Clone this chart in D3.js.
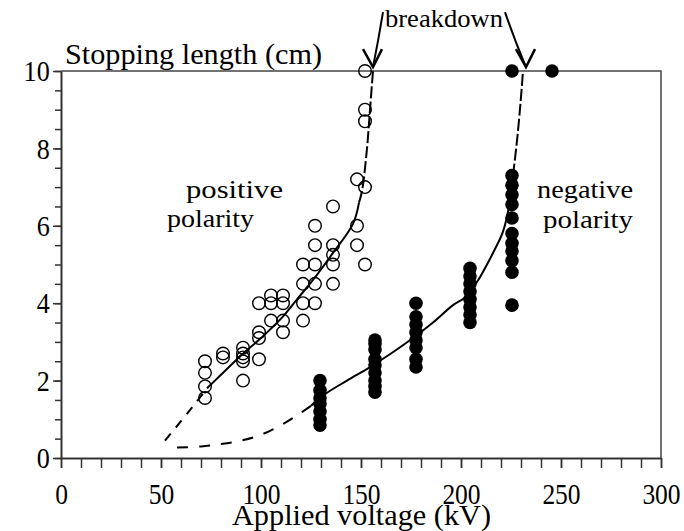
<!DOCTYPE html>
<html>
<head>
<meta charset="utf-8">
<script src="https://cdn.jsdelivr.net/npm/d3@7"></script>
<style>
  body { margin: 0; background: #fff; }
  .chart text { font-family: "Liberation Serif", "Times New Roman", serif; fill: #000; }
</style>
</head>
<body>
<div class="chart"></div>
<script>

// positive polarity (open circles)
var posVoltage = [72,72,72,72, 81,81, 91,91,91,91,91, 99,99,99,99, 105,105,105,
                  111,111,111,111, 121,121,121,121, 127,127,127,127,127,
                  136,136,136,136,136, 148,148,148, 152,152,152,152,152];
var posLength  = [1.55,1.85,2.2,2.5, 2.6,2.7, 2.0,2.5,2.6,2.7,2.85, 2.55,3.1,3.25,4.0, 3.55,4.0,4.2,
                  3.25,3.55,4.0,4.2, 3.55,4.0,4.5,5.0, 4.0,4.5,5.0,5.5,6.0,
                  4.5,5.0,5.25,5.5,6.5, 5.5,6.0,7.2, 5.0,7.0,8.7,9.0,10.0];

// negative polarity (filled circles)
var negVoltage = [129.5,129.5,129.5,129.5,129.5,129.5,129.5,
                  157,157,157,157,157,157,157,157,157,
                  177.5,177.5,177.5,177.5,177.5,177.5,177.5,177.5,
                  204.5,204.5,204.5,204.5,204.5,204.5,204.5,204.5,
                  225.5,225.5,225.5,225.5,225.5,225.5,225.5,225.5,225.5,225.5,225.5,225.5,
                  245.5];
var negLength  = [0.85,1.0,1.2,1.4,1.55,1.75,2.0,
                  1.7,1.85,2.0,2.2,2.4,2.55,2.8,2.95,3.05,
                  2.35,2.55,2.85,3.05,3.25,3.45,3.65,4.0,
                  3.5,3.7,3.9,4.1,4.3,4.5,4.7,4.9,
                  3.95,4.8,5.1,5.35,5.55,5.8,6.2,6.55,6.8,7.05,7.3,10.0,
                  10.0];

// fitted curves, split where the line style changes
var posFitLow  = [[52,0.45],[60,0.95],[67,1.4],[73,1.8]];
var posFitMid  = [[73,1.8],[80,2.15],[90,2.65],[100,3.1],[110,3.6],[118,4.1],[126,4.6],[136,5.3],[146,6.05],[149,6.6]];
var posFitHigh = [[149,6.6],[150.5,6.9],[153,8.0],[154.5,9.0],[156,10]];
var negFitLow  = [[58,0.27],[70,0.3],[80,0.36],[90,0.45],[100,0.6],[110,0.85],[118,1.1],[125,1.35]];
var negFitMid  = [[125,1.35],[132,1.65],[143,2.0],[154.5,2.35],[165,2.7],[176,3.1],[186,3.5],[196,3.95],[202,4.15],[208,4.55],[213,5.0],[217,5.4],[221,5.85],[224,6.5],[226,7.3]];
var negFitHigh = [[226,7.3],[228,8.2],[229.8,9.2],[231,10]];

var xTicks = [0,50,100,150,200,250,300];
var yTicks = [0,2,4,6,8,10];

// breakdown arrows: [text end, tip] in data units
var breakdownArrows = [[[161,10.9],[156,10.1]], [[222,10.9],[232.5,10.1]]];

function StoppingChart(){
    var self = this;
    self.init();
    self.draw();
};

StoppingChart.prototype.init = function(){
    var self = this;
    self.width = 684;
    self.height = 531;

    self.svg = d3.select(".chart").append("svg")
        .attr("width", self.width)
        .attr("height", self.height);

    self.x = d3.scaleLinear().domain([0,300]).range([61,661]);
    self.y = d3.scaleLinear().domain([0,10]).range([458,71]);
};

StoppingChart.prototype.draw = function(){
    var self = this;
    var x = self.x, y = self.y;

    // frame: top and right
    self.svg.append("path")
      .attr("d", "M" + x(0) + "," + y(10) + "H" + x(300) + "V" + y(0))
      .attr("fill", "none")
      .attr("stroke", "#444")
      .attr("stroke-width", 1.5);

    // minor ticks
    self.svg.append("g")
      .attr("transform", "translate(0," + y(0) + ")")
      .call(d3.axisBottom(x).tickValues(d3.range(0, 301, 10)).tickSize(10).tickFormat(""))
      .call(function(g){ g.select(".domain").remove(); })
      .selectAll("line").attr("stroke", "#333").attr("stroke-width", 1.5);

    self.svg.append("g")
      .attr("transform", "translate(" + x(0) + ",0)")
      .call(d3.axisLeft(y).tickValues(d3.range(0, 10.01, 0.5)).tickSize(6).tickFormat(""))
      .call(function(g){ g.select(".domain").remove(); })
      .selectAll("line").attr("stroke", "#333").attr("stroke-width", 1.5);

    // major axes with labels
    var xAxis = self.svg.append("g")
      .attr("transform", "translate(0," + y(0) + ")")
      .call(d3.axisBottom(x).tickValues(xTicks).tickSize(10).tickSizeOuter(0).tickPadding(15));
    var yAxis = self.svg.append("g")
      .attr("transform", "translate(" + x(0) + ",0)")
      .call(d3.axisLeft(y).tickValues(yTicks).tickSize(8).tickSizeOuter(0).tickPadding(5));

    [xAxis, yAxis].forEach(function(g){
      g.select(".domain").attr("stroke", "#333").attr("stroke-width", 2);
      g.selectAll("line").attr("stroke", "#333").attr("stroke-width", 1.5);
      g.selectAll("text")
        .style("font-family", "Liberation Serif, serif")
        .style("font-size", "30px")
        .attr("fill", "#000");
    });
    xAxis.selectAll(".tick text").attr("transform", "scale(0.85,1)").attr("x", 0);
    yAxis.selectAll(".tick text").attr("transform", "scale(0.87,1)");

    // fitted curves
    var line = d3.line()
      .x(function(d){ return x(d[0]); })
      .y(function(d){ return y(d[1]); })
      .curve(d3.curveCatmullRom.alpha(0.5));

    var fits = [
      {pts: posFitLow,  dash: "9,8"},
      {pts: posFitMid,  dash: null},
      {pts: posFitHigh, dash: "12,3"},
      {pts: negFitLow,  dash: "11,11"},
      {pts: negFitMid,  dash: null},
      {pts: negFitHigh, dash: "12,3"}
    ];
    self.svg.selectAll(".fit")
      .data(fits)
      .enter()
      .append("path")
      .attr("class", "fit")
      .attr("d", function(d){ return line(d.pts); })
      .attr("fill", "none")
      .attr("stroke", "#000")
      .attr("stroke-width", 2)
      .attr("stroke-dasharray", function(d){ return d.dash; });

    // data points
    self.svg.selectAll(".pos")
      .data(posVoltage)
      .enter()
      .append("circle")
      .attr("class", "pos")
      .attr("cx", function(d){ return x(d); })
      .attr("cy", function(d,i){ return y(posLength[i]); })
      .attr("r", 6.3)
      .attr("fill", "none")
      .attr("stroke", "#000")
      .attr("stroke-width", 1.4);

    self.svg.selectAll(".neg")
      .data(negVoltage)
      .enter()
      .append("circle")
      .attr("class", "neg")
      .attr("cx", function(d){ return x(d); })
      .attr("cy", function(d,i){ return y(negLength[i]); })
      .attr("r", 6.8)
      .attr("fill", "#000");

    // labels
    self.svg.append("text")
      .attr("x", 65).attr("y", 64)
      .attr("textLength", 257).attr("lengthAdjust", "spacingAndGlyphs")
      .style("font-size", "30px")
      .text("Stopping length (cm)");

    self.svg.append("text")
      .attr("x", 232).attr("y", 525)
      .attr("textLength", 259).attr("lengthAdjust", "spacingAndGlyphs")
      .style("font-size", "29px")
      .text("Applied voltage (kV)");

    self.svg.append("text")
      .attr("x", 385).attr("y", 27)
      .attr("textLength", 118).attr("lengthAdjust", "spacingAndGlyphs")
      .style("font-size", "25px")
      .text("breakdown");

    var notes = [
      {t: "positive", x: 186, y: 198, w: 97},
      {t: "polarity", x: 167, y: 227, w: 87},
      {t: "negative", x: 537, y: 198, w: 96},
      {t: "polarity", x: 543, y: 228, w: 90}
    ];
    self.svg.selectAll(".note")
      .data(notes)
      .enter()
      .append("text")
      .attr("class", "note")
      .attr("x", function(d){ return d.x; })
      .attr("y", function(d){ return d.y; })
      .attr("textLength", function(d){ return d.w; })
      .attr("lengthAdjust", "spacingAndGlyphs")
      .style("font-size", "26px")
      .text(function(d){ return d.t; });

    // breakdown arrows
    breakdownArrows.forEach(function(a){
      var x0 = x(a[0][0]), y0 = y(a[0][1]) - 24;
      var x1 = x(a[1][0]), y1 = y(a[1][1]);
      self.svg.append("path")
        .attr("d", "M" + x0 + "," + y0 + "Q" + (x0 + (x1 - x0) * 0.45) + "," + ((y0 + y1) / 2) + " " + x1 + "," + y1)
        .attr("fill", "none")
        .attr("stroke", "#000")
        .attr("stroke-width", 2);
      self.svg.append("path")
        .attr("d", "M" + (x1 - 10) + "," + (y1 - 18) + "L" + x1 + "," + y1 + "L" + (x1 + 9) + "," + (y1 - 18))
        .attr("fill", "none")
        .attr("stroke", "#000")
        .attr("stroke-width", 2.5);
    });
};

var chart = new StoppingChart();
</script>
</body>
</html>
